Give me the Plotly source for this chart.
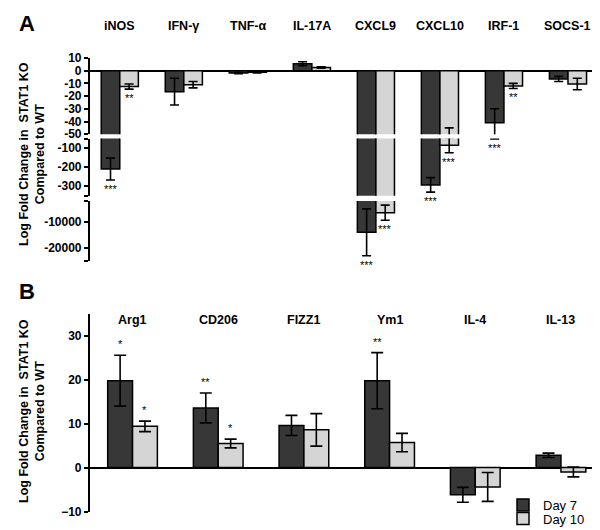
import plotly.graph_objects as go

# ---------------- data ----------------
genes_a = ["iNOS", "IFN-γ", "TNF-α", "IL-17A", "CXCL9", "CXCL10", "IRF-1", "SOCS-1"]
day7_a = [-210, -16.5, -1.8, 5.5, -14000, -293, -41, -6.5]
day7_a_err = [57, 10.5, 0.5, 1.5, 9000, 38, 11, 2]
day10_a = [-12.5, -11, -1.2, 2.5, -6500, -85, -12, -10.5]
day10_a_err = [2, 2.5, 0.5, 0.5, 2900, 40, 2, 4.5]
sig7_a = ["***", "", "", "", "***", "***", "***", ""]
sig10_a = ["**", "", "", "", "***", "***", "**", ""]

genes_b = ["Arg1", "CD206", "FIZZ1", "Ym1", "IL-4", "IL-13"]
day7_b = [19.8, 13.6, 9.6, 19.8, -6.2, 2.8]
day7_b_err = [5.8, 3.4, 2.3, 6.4, 1.7, 0.5]
day10_b = [9.4, 5.5, 8.6, 5.7, -4.4, -1.0]
day10_b_err = [1.2, 1.0, 3.7, 2.1, 3.3, 1.1]
sig7_b = ["*", "**", "", "**", "", ""]
sig10_b = ["*", "*", "", "", "", ""]

seg_ranges = [[-50, 10], [-350, -50], [-25000, -2000]]
seg_ticks = [[10, 0, -10, -20, -30, -40, -50], [-100, -200, -300], [-10000, -20000]]
b_ticks = [30, 20, 10, 0, -10]

series_names = ["Day 7", "Day 10"]
# --------------------------------------

W, H = 600, 530
DARK = "#373737"
LIGHT = "#d5d5d5"
FONT = "Liberation Sans, Arial, sans-serif"
BARGAP = 0.42


def py(px):
    return 1 - px / H


seg_dom_px = [(50, 126.2), (130.5, 187.8), (193, 253)]
b_dom_px = (306, 503.5)

fig = go.Figure()
yaxes_a = ["y", "y2", "y3"]

cols = [DARK, LIGHT]
vals_a = [day7_a, day10_a]
errs_a = [day7_a_err, day10_a_err]
for s in range(2):
    for k, ya in enumerate(yaxes_a):
        fig.add_trace(go.Bar(
            x=genes_a, y=vals_a[s], xaxis="x", yaxis=ya,
            name=series_names[s], legendgroup=series_names[s],
            showlegend=False, offsetgroup=str(s),
            marker=dict(color=cols[s], line=dict(color="black", width=1.5)),
            error_y=dict(type="data", array=errs_a[s], color="black",
                         thickness=1.6, width=4.5),
        ))

vals_b = [day7_b, day10_b]
errs_b = [day7_b_err, day10_b_err]
legend_ids = ["legend", "legend2"]
for s in range(2):
    fig.add_trace(go.Bar(
        x=genes_b, y=vals_b[s], xaxis="x2", yaxis="y4",
        name=series_names[s], legendgroup=series_names[s],
        showlegend=True, offsetgroup=str(s), legend=legend_ids[s],
        marker=dict(color=cols[s], line=dict(color="black", width=1.5)),
        error_y=dict(type="data", array=errs_b[s], color="black",
                     thickness=1.6, width=6),
    ))

tickfont = dict(family=FONT, size=12, color="black", weight="bold")
yax_common = dict(showgrid=False, showline=True, linecolor="black", linewidth=1.5,
                  ticks="outside", ticklen=4, tickwidth=1.5, tickcolor="black",
                  tickfont=tickfont, anchor="x")

leg_common = dict(x=495 / W, xanchor="left", yanchor="middle",
                  font=dict(family=FONT, size=13, color="black"),
                  bgcolor="rgba(0,0,0,0)", itemwidth=30)

layout = dict(
    width=W, height=H, margin=dict(l=0, r=0, t=0, b=0, autoexpand=False),
    paper_bgcolor="white", plot_bgcolor="white",
    barmode="group", bargap=BARGAP, bargroupgap=0,
    showlegend=True,
    legend=dict(y=py(497), **leg_common),
    legend2=dict(y=py(510.5), **leg_common),
    xaxis=dict(domain=[81.7 / W, 592 / W], range=[-0.47, 7.5], type="category",
               showticklabels=False, showline=False, showgrid=False, ticks="",
               zeroline=False, anchor="y"),
    xaxis2=dict(domain=[81.7 / W, 595.8 / W], range=[-0.5, 5.5], type="category",
                showticklabels=False, showline=False, showgrid=False, ticks="",
                zeroline=False, anchor="y4"),
    yaxis4=dict(domain=[py(b_dom_px[1]), py(b_dom_px[0])], range=[-10, 35],
                tickvals=b_ticks, zeroline=True, zerolinecolor="black",
                zerolinewidth=1.5, **{**yax_common, "anchor": "x2"}),
)
for k, ya in enumerate(["yaxis", "yaxis2", "yaxis3"]):
    top, bot = seg_dom_px[k]
    lo, hi = seg_ranges[k]
    tv = list(seg_ticks[k])
    tt = [str(t) for t in seg_ticks[k]]
    # small end marks at the axis breaks
    for endv in (hi, lo):
        if endv not in tv:
            tv.append(endv)
            tt.append("")
    layout[ya] = dict(domain=[py(bot), py(top)], range=seg_ranges[k],
                      tickvals=tv, ticktext=tt,
                      zeroline=(k == 0), zerolinecolor="black", zerolinewidth=1.5,
                      **yax_common)
fig.update_layout(**layout)

anns = []
lab_font = dict(family=FONT, size=12.5, color="black", weight="bold")
# category labels
for g in genes_a:
    anns.append(dict(x=g, y=py(18), xref="x", yref="paper", text=g, showarrow=False,
                     xanchor="center", yanchor="middle", font=lab_font))
for g in genes_b:
    anns.append(dict(x=g, y=py(312), xref="x2", yref="paper", text=g, showarrow=False,
                     xanchor="center", yanchor="middle", font=lab_font))

# panel letters
for letter, yc in (("A", 16), ("B", 283)):
    anns.append(dict(x=9 / W, y=py(yc), xref="paper", yref="paper", text=letter,
                     showarrow=False, xanchor="left", yanchor="middle",
                     font=dict(family=FONT, size=22, color="black", weight="bold")))

# y titles
ytitle = "Log Fold Change in  STAT1 KO<br>Compared to WT"
for yc in (146, 403):
    anns.append(dict(x=24 / W, y=py(yc), xref="paper", yref="paper", text=ytitle,
                     showarrow=False, textangle=-90, xanchor="center", yanchor="middle",
                     font=lab_font))

# significance stars
off = (1 - BARGAP) / 4
star_font = dict(family=FONT, size=11, color="black")


def seg_ref(v):
    for k, (lo, hi) in enumerate(seg_ranges):
        if lo <= v <= hi:
            return yaxes_a[k]
    return "y3"


for s, sig in enumerate([sig7_a, sig10_a]):
    for i, t in enumerate(sig):
        if not t:
            continue
        v = vals_a[s][i]
        e = errs_a[s][i]
        end = v - e if v < 0 else v + e
        anns.append(dict(x=i + (-off if s == 0 else off), y=end, xref="x", yref=seg_ref(end),
                         text=t, showarrow=False, font=star_font, xanchor="center",
                         yanchor="top" if v < 0 else "bottom", yshift=-1 if v < 0 else 1))

for s, sig in enumerate([sig7_b, sig10_b]):
    for i, t in enumerate(sig):
        if not t:
            continue
        v = vals_b[s][i]
        e = errs_b[s][i]
        end = v + e if v >= 0 else v - e
        anns.append(dict(x=i + (-off if s == 0 else off), y=end, xref="x2", yref="y4",
                         text=t, showarrow=False, font=star_font, xanchor="center",
                         yanchor="bottom" if v >= 0 else "top", yshift=3 if v >= 0 else -3))

fig.update_layout(annotations=anns)
fig.write_html("out.html")
